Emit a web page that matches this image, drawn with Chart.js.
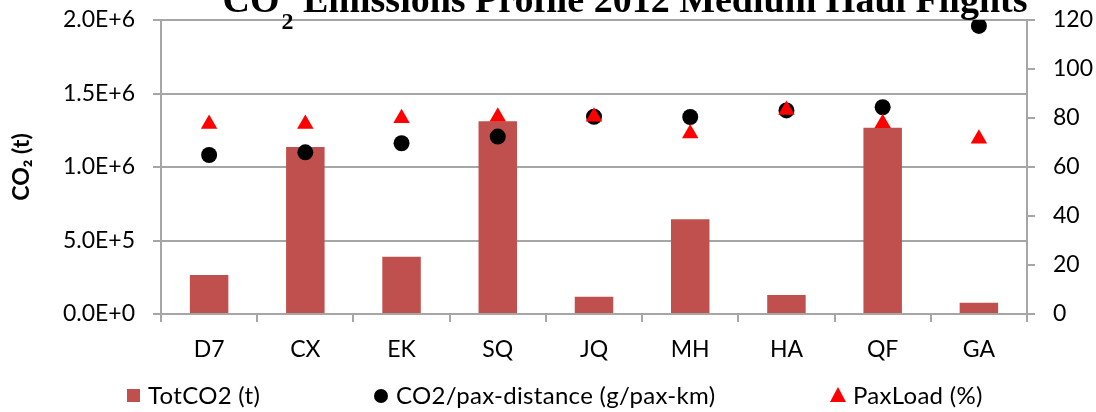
<!DOCTYPE html>
<html>
<head>
<meta charset="utf-8">
<script src="https://cdn.jsdelivr.net/npm/chart.js@4.4.1/dist/chart.umd.min.js"></script>
<style>
  html, body { margin: 0; padding: 0; background: #fff; }
  #wrap { position: relative; width: 1096px; height: 412px; overflow: hidden; }
  #c { position: absolute; left: 0; top: 0; }
  #legend { position: absolute; left: 0; top: 380px; width: 1096px; height: 30px; margin: 0; padding: 0; list-style: none;
            font-family: Lato, "Open Sans", sans-serif; font-size: 24px; letter-spacing: 0.3px; color: #000; }
  #legend li { position: absolute; top: 0; height: 30px; line-height: 30px; white-space: nowrap; }
  #legend .mk { position: absolute; top: 50%; }
  #legend .txt { position: absolute; top: 0; }
</style>
</head>
<body>
<div id="wrap">
  <canvas id="c" width="1096" height="412"></canvas>
  <ul id="legend"></ul>
</div>
<script>
// Airlines (medium haul, 2012)
const categories = ['D7', 'CX', 'EK', 'SQ', 'JQ', 'MH', 'HA', 'QF', 'GA'];
// Total CO2 emitted, tonnes
const totCO2 = [265000, 1136000, 390000, 1311000, 118000, 644000, 129000, 1267000, 77000];
// CO2 intensity, g per passenger-km
const co2PerPaxKm = [64.9, 66.0, 69.7, 72.4, 80.5, 80.4, 83.1, 84.4, 117.6];
// Passenger load factor, %
const paxLoad = [77.6, 77.6, 79.9, 80.5, 80.5, 73.7, 83.3, 77.9, 71.5];

const FONT = 'Lato, "Open Sans", sans-serif';
const GRID = '#a6a6a6';

// Title with a lowered "2" in CO2, drawn above the plot area
const titlePlugin = {
  id: 'subTitle',
  afterDraw(chart) {
    const ctx = chart.ctx;
    ctx.save();
    ctx.fillStyle = '#000';
    ctx.textBaseline = 'alphabetic';
    const big = 'bold 38px "Liberation Serif", "Times New Roman", serif';
    const small = 'bold 24px "Liberation Serif", "Times New Roman", serif';
    const p1 = 'CO', p2 = '2', p3 = ' Emissions Profile 2012 Medium Haul Flights';
    ctx.font = big;
    const w1 = ctx.measureText(p1).width, w3 = ctx.measureText(p3).width;
    ctx.font = small;
    const w2 = ctx.measureText(p2).width;
    let x = 624 - (w1 + w2 + w3) / 2;
    const base = 12;
    ctx.font = big; ctx.fillText(p1, x, base); x += w1 + 2;
    ctx.font = small; ctx.fillText(p2, x, base + 17); x += w2;
    ctx.font = big; ctx.fillText(p3, x, base);
    ctx.restore();
  }
};

// Legend row built from the chart's own legend items
const legendLeft = [127, 374, 830];
const htmlLegend = {
  id: 'htmlLegend',
  afterUpdate(chart) {
    const ul = document.getElementById('legend');
    ul.innerHTML = '';
    const items = chart.options.plugins.legend.labels.generateLabels(chart)
      .sort((a, b) => a.datasetIndex - b.datasetIndex);
    items.forEach((item, i) => {
      const li = document.createElement('li');
      li.style.left = legendLeft[i] + 'px';
      const mk = document.createElement('span');
      mk.className = 'mk';
      const style = chart.data.datasets[item.datasetIndex].pointStyle;
      const col = item.fillStyle;
      let textX;
      if (style === 'rect') {
        Object.assign(mk.style, { left: '0px', width: '13px', height: '13px', marginTop: '-6px', background: col });
        textX = 21;
      } else if (style === 'circle') {
        Object.assign(mk.style, { left: '0px', width: '14px', height: '14px', marginTop: '-6px', borderRadius: '50%', background: col });
        textX = 22;
      } else {
        Object.assign(mk.style, { left: '0px', width: '0px', height: '0px', marginTop: '-8px',
          borderLeft: '8px solid transparent', borderRight: '8px solid transparent', borderBottom: '15px solid ' + col });
        textX = 23;
      }
      const txt = document.createElement('span');
      txt.className = 'txt';
      txt.style.left = textX + 'px';
      txt.textContent = item.text;
      li.appendChild(mk);
      li.appendChild(txt);
      ul.appendChild(li);
    });
  }
};

new Chart(document.getElementById('c'), {
  type: 'bar',
  data: {
    labels: categories,
    datasets: [
      {
        type: 'bar',
        label: 'TotCO2 (t)',
        data: totCO2,
        backgroundColor: '#c0504d',
        pointStyle: 'rect',
        yAxisID: 'y',
        barPercentage: 0.4,
        categoryPercentage: 1.0,
        order: 3
      },
      {
        type: 'line',
        label: 'CO2/pax-distance (g/pax-km)',
        data: co2PerPaxKm,
        showLine: false,
        pointStyle: 'circle',
        pointRadius: 8,
        pointHoverRadius: 8,
        backgroundColor: '#000',
        borderColor: '#000',
        borderWidth: 0,
        yAxisID: 'y1',
        order: 2
      },
      {
        type: 'line',
        label: 'PaxLoad (%)',
        data: paxLoad,
        showLine: false,
        pointStyle: 'triangle',
        pointRadius: 9.5,
        pointHoverRadius: 9.5,
        backgroundColor: '#ff0000',
        borderColor: '#ff0000',
        borderWidth: 0,
        yAxisID: 'y1',
        order: 1
      }
    ]
  },
  options: {
    responsive: false,
    animation: false,
    layout: { padding: { top: 20, left: 0, right: 0, bottom: 46 } },
    plugins: {
      title: { display: false },
      tooltip: { enabled: false },
      legend: { display: false }
    },
    scales: {
      x: {
        offset: true,
        grid: {
          display: true,
          offset: true,
          drawOnChartArea: false,
          drawTicks: true,
          tickLength: 8,
          color: GRID,
          lineWidth: 2
        },
        border: { display: true, color: GRID, width: 2 },
        ticks: { color: '#000', font: { family: FONT, size: 23 }, padding: 14, maxRotation: 0 },
        afterFit(s) { s.height = 52; s.paddingLeft = 0; s.paddingRight = 0; }
      },
      y: {
        position: 'left',
        min: 0,
        max: 2000000,
        ticks: {
          stepSize: 500000,
          color: '#000',
          font: { family: FONT, size: 23 },
          padding: 18,
          callback: v => Number(v).toExponential(1).toUpperCase()
        },
        grid: { color: GRID, lineWidth: 2, tickLength: 8 },
        border: { display: true, color: GRID, width: 2 },
        title: {
          display: true,
          text: 'CO₂ (t)',
          color: '#000',
          font: { family: FONT, size: 23, weight: 'bold' },
          padding: { top: 8, bottom: 0 }
        },
        afterFit(s) { s.width = 161; s.paddingTop = 0; s.paddingBottom = 0; }
      },
      y1: {
        position: 'right',
        min: 0,
        max: 120,
        ticks: {
          stepSize: 20,
          color: '#000',
          font: { family: FONT, size: 23 },
          padding: 18
        },
        grid: { drawOnChartArea: false, color: GRID, lineWidth: 2, tickLength: 8 },
        border: { display: true, color: GRID, width: 2 },
        afterFit(s) { s.width = 69; s.paddingTop = 0; s.paddingBottom = 0; }
      }
    }
  },
  plugins: [titlePlugin, htmlLegend]
});
</script>
</body>
</html>
